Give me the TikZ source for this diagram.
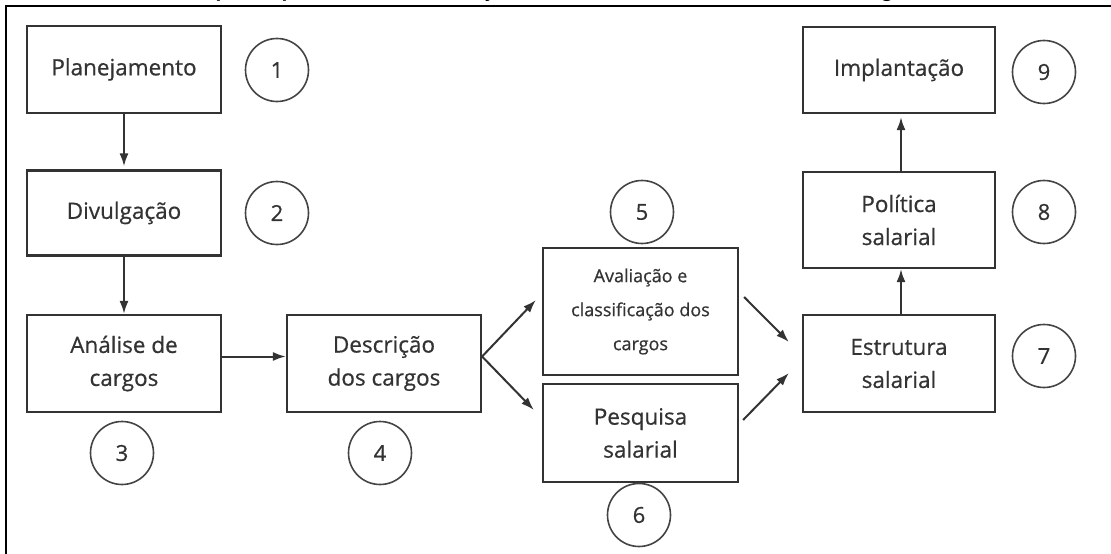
\documentclass[tikz,border=0pt]{standalone}
\usepackage{fontspec}
\setmainfont{Open Sans}
\newfontfamily\medfont{Open Sans}[FakeBold=0.6]
\newfontfamily\titlefont{Carlito}
\usetikzlibrary{arrows.meta}
\definecolor{ink}{HTML}{333333}
\definecolor{circ}{HTML}{444444}
\begin{document}
\begin{tikzpicture}[x=1pt,y=-1pt,
  box/.style={draw=ink,line width=2.2pt,text=ink,align=center,inner sep=0pt,
    minimum width=194pt,font=\medfont\fontsize{22.5}{33}\selectfont},
  num/.style={circle,draw=circ,line width=1.6pt,minimum size=63pt,inner sep=0pt,
    text=ink,font=\medfont\fontsize{22}{24}\selectfont},
  arr/.style={draw=ink,line width=2pt,-{Latex[length=13pt,width=9pt]}},
  frag/.style={anchor=base,inner sep=0pt,font=\titlefont\bfseries\fontsize{24}{28}\selectfont}]
\useasboundingbox (0,0) rectangle (1111,554);
\fill[white] (0,0) rectangle (1111,554);
% cut-off title fragments
\begin{scope}
  \clip (0,0) rectangle (1111,5);
  \node[frag] (f1) at (222,-2) {p};
  \node[frag] (f2) at (288,-2) {p};
  \node[frag] (f3) at (487,-2) {ç};
  \node[frag] (f4) at (887,-2) {g};
\end{scope}
% frame
\draw[line width=2.6pt,black] (6,554) -- (6,6) -- (1111,6);
% boxes
\node[box,minimum height=87pt] (plan) at (124,69.5) {Planejamento};
\node[box,minimum height=85pt] (div) at (124,213) {Divulgação};
\node[box,minimum height=97pt] (ana) at (124,363.5) {Análise de\\cargos};
\node[box,minimum height=97pt] (desc) at (384,363.5) {Descrição\\dos cargos};
\node[box,minimum width=195pt,minimum height=127pt,font=\medfont\fontsize{18}{34}\selectfont] (aval) at (640.5,311.5) {Avaliação e\\classificação dos\\cargos};
\node[box,minimum width=195pt,minimum height=98pt] (pesq) at (640.5,433) {Pesquisa\\salarial};
\node[box,minimum width=192pt,minimum height=97pt] (estr) at (899,363.5) {Estrutura\\salarial};
\node[box,minimum width=192pt,minimum height=96pt] (pol) at (899,220) {Política\\salarial};
\node[box,minimum width=192pt,minimum height=86pt] (impl) at (899,70) {Implantação};
% numbers
\node[num] (n1) at (277,70) {1};
\node[num] (n2) at (277,213) {2};
\node[num] (n3) at (122,453) {3};
\node[num] (n4) at (380,453) {4};
\node[num] (n5) at (642,212) {5};
\node[num] (n6) at (639,515) {6};
\node[num] (n7) at (1044,356) {7};
\node[num] (n8) at (1044,212) {8};
\node[num] (n9) at (1044,72) {9};
% connectors
\draw[arr,shorten >=3pt] (plan) -- (div);
\draw[arr] (div) -- (ana);
\draw[arr] ([yshift=7pt]ana.east) -- ([yshift=7pt]desc.west);
\draw[arr] ([yshift=7pt]desc.east) -- ([xshift=-6pt,yshift=11.5pt]aval.west);
\draw[arr] ([yshift=7pt]desc.east) -- ([xshift=-8pt,yshift=23pt]pesq.west);
\draw[arr] ([xshift=5pt,yshift=14.5pt]aval.east) -- ([xshift=-13pt,yshift=21.5pt]estr.west);
\draw[arr] ([xshift=4pt,yshift=13pt]pesq.east) -- ([xshift=-13pt,yshift=-9.5pt]estr.west);
\draw[arr] ([xshift=2pt]estr.north) -- ([xshift=2pt]pol.south);
\draw[arr,shorten >=3pt] ([xshift=2pt]pol.north) -- ([xshift=2pt]impl.south);
\end{tikzpicture}
\end{document}
